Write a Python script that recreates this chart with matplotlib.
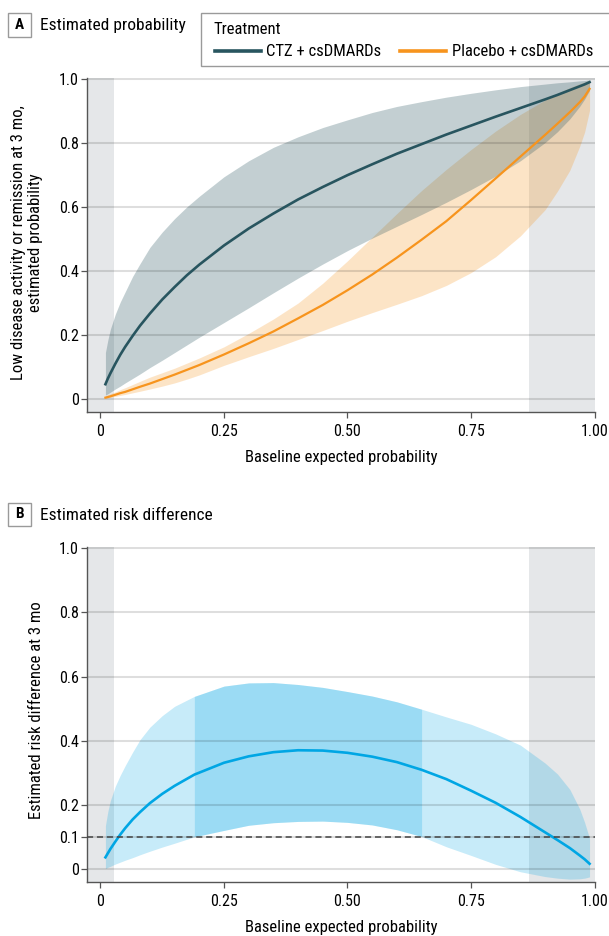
import matplotlib
matplotlib.use("Agg")
import matplotlib.pyplot as plt
from matplotlib.patches import Rectangle
from matplotlib.lines import Line2D
import numpy as np

plt.rcParams['font.family'] = ['Roboto Condensed', 'Fira Sans Condensed', 'PT Sans Narrow',
                               'Archivo Narrow', 'Liberation Sans', 'DejaVu Sans']

W, H = 609, 936

# Panel A: estimated probability by baseline expected probability
base_a = [0.01, 0.015, 0.02, 0.03, 0.04, 0.05, 0.065, 0.08, 0.10, 0.125, 0.15, 0.175, 0.20, 0.25,
          0.30, 0.35, 0.40, 0.45, 0.50, 0.55, 0.60, 0.65, 0.70, 0.75, 0.80, 0.85, 0.90, 0.925,
          0.95, 0.97, 0.98, 0.99]
ctz = [0.046, 0.064, 0.080, 0.110, 0.138, 0.163, 0.197, 0.229, 0.267, 0.311, 0.350, 0.387, 0.420, 0.480,
       0.533, 0.580, 0.624, 0.663, 0.700, 0.734, 0.767, 0.797, 0.827, 0.855, 0.883, 0.910, 0.937, 0.951,
       0.966, 0.978, 0.984, 0.991]
ctz_hi = [0.145, 0.185, 0.218, 0.265, 0.303, 0.335, 0.383, 0.423, 0.474, 0.522, 0.564, 0.601, 0.634, 0.695,
          0.745, 0.787, 0.820, 0.849, 0.873, 0.896, 0.915, 0.930, 0.944, 0.956, 0.967, 0.977, 0.985, 0.989,
          0.992, 0.995, 0.996, 0.998]
ctz_lo = [0.012, 0.016, 0.021, 0.031, 0.040, 0.050, 0.064, 0.078, 0.098, 0.121, 0.145, 0.169, 0.193, 0.239,
          0.285, 0.332, 0.378, 0.422, 0.464, 0.503, 0.540, 0.577, 0.615, 0.655, 0.697, 0.745, 0.802, 0.836,
          0.876, 0.915, 0.938, 0.965]
pbo = [0.004, 0.006, 0.008, 0.013, 0.018, 0.022, 0.030, 0.038, 0.048, 0.062, 0.076, 0.091, 0.106, 0.139,
       0.174, 0.211, 0.252, 0.294, 0.340, 0.389, 0.442, 0.498, 0.556, 0.622, 0.690, 0.758, 0.826, 0.861,
       0.897, 0.928, 0.946, 0.970]
pbo_hi = [0.010, 0.013, 0.016, 0.022, 0.029, 0.035, 0.045, 0.055, 0.068, 0.082, 0.096, 0.112, 0.128, 0.163,
          0.205, 0.250, 0.300, 0.362, 0.432, 0.506, 0.580, 0.652, 0.718, 0.780, 0.838, 0.890, 0.935, 0.956,
          0.974, 0.986, 0.991, 0.996]
pbo_lo = [0.002, 0.0035, 0.005, 0.008, 0.011, 0.014, 0.019, 0.024, 0.031, 0.040, 0.050, 0.062, 0.075, 0.105,
          0.132, 0.158, 0.186, 0.214, 0.243, 0.270, 0.296, 0.323, 0.355, 0.395, 0.445, 0.510, 0.592, 0.650,
          0.715, 0.790, 0.835, 0.903]

# Panel B: estimated risk difference
base_b = [0.01, 0.015, 0.02, 0.03, 0.04, 0.05, 0.065, 0.08, 0.10, 0.125, 0.15, 0.19, 0.25,
          0.30, 0.35, 0.40, 0.45, 0.50, 0.55, 0.60, 0.65, 0.70, 0.75, 0.80, 0.85, 0.90, 0.925,
          0.95, 0.97, 0.98, 0.99]
rd = [0.036, 0.049, 0.062, 0.085, 0.107, 0.127, 0.154, 0.177, 0.205, 0.234, 0.259, 0.294, 0.331,
      0.351, 0.364, 0.370, 0.369, 0.362, 0.350, 0.333, 0.309, 0.280, 0.244, 0.206, 0.162, 0.114, 0.090,
      0.065, 0.042, 0.030, 0.016]
rd_hi = [0.135, 0.180, 0.213, 0.258, 0.292, 0.322, 0.364, 0.403, 0.442, 0.478, 0.507, 0.538, 0.570,
         0.580, 0.581, 0.575, 0.566, 0.553, 0.539, 0.521, 0.498, 0.474, 0.451, 0.421, 0.386, 0.330, 0.296,
         0.248, 0.187, 0.145, 0.095]
rd_lo = [0.001, 0.005, 0.008, 0.015, 0.021, 0.027, 0.035, 0.044, 0.055, 0.068, 0.080, 0.100, 0.120,
         0.136, 0.144, 0.148, 0.149, 0.145, 0.137, 0.122, 0.101, 0.069, 0.042, 0.014, -0.009, -0.024, -0.029,
         -0.032, -0.031, -0.029, -0.025]
mcid = 0.1

# regions with little support (shaded grey)
low_support = 0.028
high_support = 0.867

x_ticks = [0, 0.25, 0.5, 0.75, 1.0]
x_ticklabels = ['0', '0.25', '0.50', '0.75', '1.00']
ya_ticks = [0, 0.2, 0.4, 0.6, 0.8, 1.0]
ya_ticklabels = ['0', '0.2', '0.4', '0.6', '0.8', '1.0']
yb_ticks = [0, 0.1, 0.2, 0.4, 0.6, 0.8, 1.0]
yb_ticklabels = ['0', '0.1', '0.2', '0.4', '0.6', '0.8', '1.0']

CTZ_COLOR = '#28555f'
PBO_COLOR = '#f7941d'
RD_COLOR = '#00a6e4'


def fx(px):
    return px / W


def fy(py):
    return 1 - py / H


def panel_label(fig, top, letter, title):
    fig.add_artist(Rectangle((fx(8), fy(top + 23)), fx(23), 23 / H, transform=fig.transFigure,
                             fc='white', ec='#9a9a9a', lw=1.0))
    fig.text(fx(19.5), fy(top + 11.5), letter, ha='center', va='center', fontsize=11, fontweight='bold')
    fig.text(fx(40), fy(top + 12), title, ha='left', va='center', fontsize=12.5)


def style_axes(ax, yticks, yticklabels):
    ax.set_xlim(-0.0265, 1.0)
    ax.set_ylim(-0.04, 1.003)
    ax.set_xticks(x_ticks)
    ax.set_xticklabels(x_ticklabels)
    ax.set_yticks(yticks)
    ax.set_yticklabels(yticklabels)
    for s in ['top', 'right']:
        ax.spines[s].set_visible(False)
    for s in ['left', 'bottom']:
        ax.spines[s].set_color('#555555')
        ax.spines[s].set_linewidth(1.0)
    ax.tick_params(direction='out', length=4, width=0.9, color='#555555', labelsize=11.5, pad=2)
    ax.tick_params(axis='x', pad=4.5)
    for y in yticks:
        ax.axhline(y, color='black', alpha=0.13, lw=1.5, zorder=2.5)
    ax.axvspan(-0.03, low_support, color='#737a85', alpha=0.18, lw=0, zorder=0.5)
    ax.axvspan(high_support, 1.01, color='#737a85', alpha=0.18, lw=0, zorder=0.5)
    ax.set_xlabel('Baseline expected probability', fontsize=12, labelpad=8)


def draw_panel_a(fig):
    ax = fig.add_axes([fx(87.4), fy(411.7), fx(594.5) - fx(87.4), (411.7 - 78.3) / H])
    ax.fill_between(base_a, pbo_lo, pbo_hi, color=PBO_COLOR, alpha=0.25, lw=0, zorder=1)
    ax.fill_between(base_a, ctz_lo, ctz_hi, color=CTZ_COLOR, alpha=0.28, lw=0, zorder=1.2)
    ax.plot(base_a, ctz, color=CTZ_COLOR, lw=1.9, zorder=3)
    ax.plot(base_a, pbo, color=PBO_COLOR, lw=1.6, zorder=3)
    style_axes(ax, ya_ticks, ya_ticklabels)
    fig.text(fx(27), fy(243), 'Low disease activity or remission at 3 mo,\nestimated probability',
             rotation=90, ha='center', va='center', fontsize=12, linespacing=1.2)

    # legend box (runs off the right edge like the original)
    fig.add_artist(Rectangle((fx(201), fy(66)), fx(420), 53 / H, transform=fig.transFigure,
                             fc='white', ec='#9a9a9a', lw=1.0))
    fig.text(fx(213), fy(29), 'Treatment', ha='left', va='center', fontsize=12)
    fig.add_artist(Line2D([fx(215), fx(261)], [fy(51), fy(51)], transform=fig.transFigure,
                          color=CTZ_COLOR, lw=2.6))
    fig.text(fx(266), fy(51), 'CTZ + csDMARDs', ha='left', va='center', fontsize=12)
    fig.add_artist(Line2D([fx(400), fx(446)], [fy(51), fy(51)], transform=fig.transFigure,
                          color=PBO_COLOR, lw=2.6))
    fig.text(fx(452), fy(51), 'Placebo + csDMARDs', ha='left', va='center', fontsize=12)


def draw_panel_b(fig):
    ax = fig.add_axes([fx(87.4), fy(881.7), fx(594.5) - fx(87.4), (881.7 - 547.3) / H])
    lo = np.array(rd_lo)
    ax.fill_between(base_b, rd_lo, rd_hi, color=RD_COLOR, alpha=0.22, lw=0, zorder=1)
    # darker where the whole interval is above the MCID
    ax.fill_between(base_b, rd_lo, rd_hi, where=lo >= mcid - 1e-9, color=RD_COLOR, alpha=0.22,
                    lw=0, zorder=1.1)
    ax.plot(base_b, rd, color=RD_COLOR, lw=1.9, zorder=3)
    ax.axhline(mcid, color='#444444', lw=1.1, ls=(0, (4, 2.5)), zorder=3.5)
    style_axes(ax, yb_ticks, yb_ticklabels)
    fig.text(fx(37), fy(710), 'Estimated risk difference at 3 mo', rotation=90,
             ha='center', va='center', fontsize=12)


fig = plt.figure(figsize=(W / 100, H / 100), dpi=100)
panel_label(fig, 13.5, 'A', 'Estimated probability')
panel_label(fig, 503, 'B', 'Estimated risk difference')
draw_panel_a(fig)
draw_panel_b(fig)
fig.savefig('out.png', dpi=100)
